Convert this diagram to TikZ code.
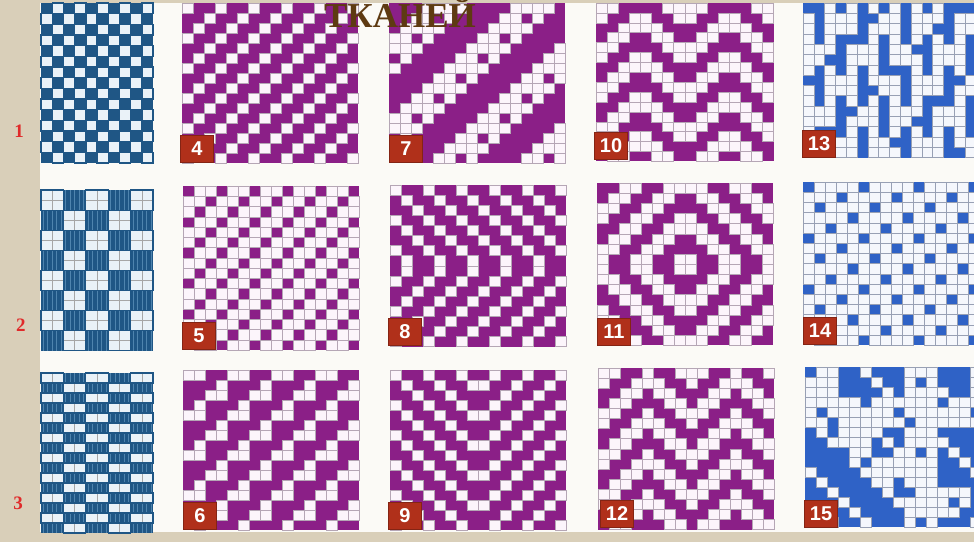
\documentclass[tikz,border=0pt]{standalone}
\usepackage{fontspec}
\setmainfont{Liberation Serif}
\newfontfamily\badgefont{Liberation Sans}
\usepackage{xcolor}
\usepackage{tikz}

\definecolor{bdark}{HTML}{1F5685}
\definecolor{bline}{HTML}{4F84AE}
\definecolor{bpale}{HTML}{EAF2F8}
\definecolor{wvpurple}{HTML}{8B1F87}
\definecolor{ppale}{HTML}{FCF5FB}
\definecolor{pgrid}{HTML}{B5A6B5}
\definecolor{royal}{HTML}{2F62C6}
\definecolor{rpale}{HTML}{F5F7FC}
\definecolor{rgrid}{HTML}{98A0B4}
\definecolor{badgered}{HTML}{B0301A}
\definecolor{labelred}{HTML}{E02A2A}
\definecolor{linen}{HTML}{D9CFB9}
\definecolor{paper}{HTML}{FBFAF6}
\definecolor{titlebrown}{HTML}{5E3A12}

% x0, y0, last col, last row, cell w, cell h, style prefix, white-cell test
\newcommand{\weave}[8]{%
  \path[#7base] (#1,#2) rectangle ++({(#3+1)*#5},{(#4+1)*#6});
  \foreach \r in {0,...,#4}{
    \foreach \c in {0,...,#3}{
      \pgfmathtruncatemacro{\w}{#8}
      \ifnum\w>0
        \path[#7cell] ({#1+\c*#5},{#2+\r*#6}) rectangle ++(#5,#6);
      \fi
    }
  }%
}

\begin{document}
\begin{tikzpicture}[x=1pt, y=-1pt,
  bbase/.style={fill=bdark},
  bcell/.style={fill=bpale, draw=bdark, line width=1.4pt},
  sbase/.style={fill=bdark, path picture={
      \foreach \i in {2,6.5,...,120}
        \draw[bline, line width=0.6pt] ([xshift=\i pt]path picture bounding box.north west)
          -- ([xshift=\i pt]path picture bounding box.south west);}},
  scell/.style={fill=bpale, draw=bdark, line width=1.2pt, path picture={
      \draw[gray!70, line width=0.6pt]
        (path picture bounding box.north) -- (path picture bounding box.south)
        (path picture bounding box.west) -- (path picture bounding box.east);}},
  tbase/.style={sbase},
  tcell/.style={fill=bpale, draw=bdark, line width=1.2pt, path picture={
      \draw[gray!70, line width=0.6pt]
        (path picture bounding box.north) -- (path picture bounding box.south);}},
  pbase/.style={fill=wvpurple},
  pcell/.style={fill=ppale, draw=pgrid, line width=0.5pt},
  rbase/.style={fill=royal},
  rcell/.style={fill=rpale, draw=rgrid, line width=0.5pt},
  badge/.style={fill=badgered, draw=badgered!75!black, minimum width=33pt,
    minimum height=27pt, inner sep=0pt, text=white,
    font=\badgefont\bfseries\fontsize{20}{20}\selectfont},
  rowlabel/.style={text=labelred, font=\bfseries\fontsize{19}{19}\selectfont},
  title/.style={text=titlebrown, anchor=base, inner sep=0pt,
    font=\bfseries\fontsize{35}{35}\selectfont}
]
  \useasboundingbox (0,0) rectangle (974,542);
  \clip (0,0) rectangle (974,542);

  \fill[paper] (0,0) rectangle (974,542);
  \fill[linen] (0,0) rectangle (40,542);
  \fill[linen] (0,532) rectangle (974,542);
  \fill[linen] (0,0) rectangle (974,3);

  % first column
  \weave{41}{3}{9}{14}{11.2}{10.667}{b}{Mod(\c+\r,2)==1}
  \weave{41}{190}{4}{7}{22.4}{20.1}{s}{Mod(\c+\r,2)==0}
  \weave{41}{373}{4}{15}{22.4}{10}{t}{Mod(\c+\r,2)==0}

  % purple twills
  \weave{182}{3}{15}{15}{11}{10}{p}{Mod(\c+\r,3)==0}
  \weave{183}{186}{15}{15}{11}{10.25}{p}{Mod(\c+\r,3)!=0}
  \weave{183}{370}{15}{15}{11}{10}{p}{Mod(\c+\r,4)==0 || (Mod(\c+\r,4)==1 && Mod(\r,2)==0)}

  \weave{389}{3}{15}{15}{11}{10}{p}{Mod(\c+\r,8)>=3 && Mod(\c+\r,8)<=6 && !(Mod(\c+\r,8)==5 && Mod(\c,2)==0)}
  \weave{390}{185}{15}{15}{11}{10.1}{p}{Mod(\c+30-ifthenelse(\r<8,\r,15-\r),3)==0}
  \weave{390}{370}{15}{15}{11}{10}{p}{Mod(\r+ifthenelse(\c<8,30-\c,15+\c),3)==0}

  \weave{596}{3}{15}{15}{11.1}{9.9}{p}{Mod(\r+ifthenelse(Mod(\c,8)<4,Mod(\c,8),7-Mod(\c,8)),4)<=1}
  \weave{597}{183}{15}{15}{11}{10.15}{p}{Mod(int((abs(2*\c-15)+abs(2*\r-15))/2),4)<=1}
  \weave{598}{368}{15}{15}{11}{10.1}{p}{Mod(ifthenelse(Mod(int(\c/4),2)==0,\c+\r,\r-\c+40),4)<=1}

  % blue column
  \weave{803}{3}{16}{14}{10.8}{10.3}{r}{ifthenelse(Mod(\c,2)==1,Mod(\r+3*int(\c/2),6)>=4,Mod(\r+\c,7)!=0)}
  \weave{803}{182}{15}{15}{11}{10.2}{r}{Mod(\c+2*\r,5)!=0}
  \weave{805}{367}{15}{15}{11}{10}{r}{ifthenelse(Mod(int(\c/3)*7+int(\r/3)*11+int(\c/3)*int(\r/3)*3,5)<2,Mod(\c*5+\r*3+\c*\r,7)!=0,Mod(\c*13+\r*7+\c*\r*5,5)==0)}

  \node[badge] (b4)  at (197,149) {4};
  \node[badge] (b7)  at (406,149) {7};
  \node[badge] (b10) at (611,146) {10};
  \node[badge] (b13) at (819,144) {13};
  \node[badge] (b5)  at (199,336) {5};
  \node[badge] (b8)  at (405,332) {8};
  \node[badge] (b11) at (614,332) {11};
  \node[badge] (b14) at (820,331) {14};
  \node[badge] (b6)  at (200,516) {6};
  \node[badge] (b9)  at (405,516) {9};
  \node[badge] (b12) at (617,514) {12};
  \node[badge] (b15) at (821,514) {15};

  \node[rowlabel] (row1) at (19,131) {1};
  \node[rowlabel] (row2) at (21,325) {2};
  \node[rowlabel] (row3) at (18,503) {3};

  \node[title] (head) at (400,27) {ТКАНЕЙ};
\end{tikzpicture}
\end{document}
